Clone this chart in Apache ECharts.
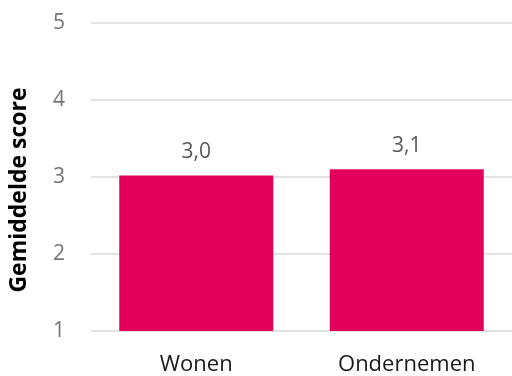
<!DOCTYPE html>
<html><head><meta charset="utf-8">
<script src="https://cdn.jsdelivr.net/npm/echarts@6/dist/echarts.min.js"></script>
<style>html,body{margin:0;padding:0;background:#fff}#c{width:512px;height:376px}</style>
</head><body><div id="c"></div>
<script>
const categories = ['Wonen', 'Ondernemen'];
const scores = [3.02, 3.10];
const yTicks = [1, 2, 3, 4, 5];
const yTitle = 'Gemiddelde score';

const chart = echarts.init(document.getElementById('c'), null, {renderer: 'canvas'});
const font = '"Open Sans", "Noto Sans", sans-serif';
chart.setOption({
  animation: false,
  grid: {left: 88, top: 23, width: 430, bottom: 45, containLabel: false},
  xAxis: {
    type: 'category', data: categories,
    axisLine: {show: false}, axisTick: {show: false},
    axisLabel: {color: '#1a1a1a', fontSize: 22, fontFamily: font, margin: 23}
  },
  yAxis: {
    type: 'value', min: yTicks[0], max: yTicks[yTicks.length - 1], interval: 1,
    name: yTitle, nameLocation: 'middle', nameGap: 60,
    nameTextStyle: {color: '#000', fontSize: 23, fontWeight: 'bold', fontFamily: font, padding: [0, 26, 0, 0]},
    axisLine: {show: false}, axisTick: {show: false},
    axisLabel: {color: '#767676', fontSize: 21, fontFamily: font, margin: 26},
    splitLine: {lineStyle: {color: '#d9d9d9', width: 1.5}}
  },
  series: [{
    type: 'bar', data: scores, barWidth: 154,
    itemStyle: {color: '#E3005B'},
    label: {
      show: true, position: 'top', distance: 13,
      color: '#595959', fontSize: 21, fontFamily: font,
      formatter: p => p.value.toFixed(1).replace('.', ',')
    }
  }]
});
</script></body></html>
